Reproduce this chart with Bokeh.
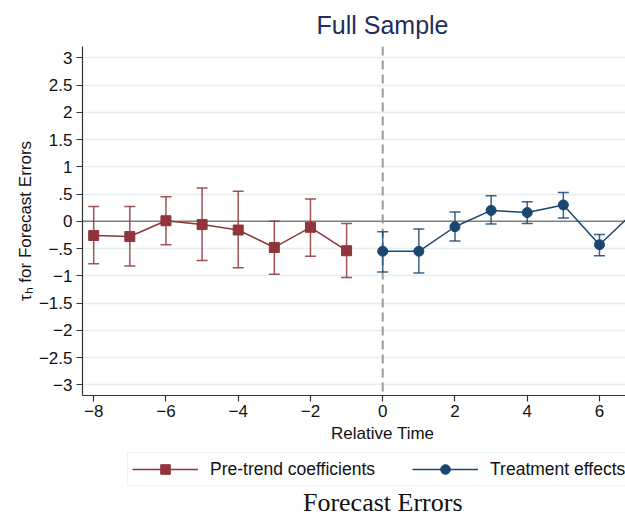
from bokeh.plotting import figure
from bokeh.layouts import column
from bokeh.models import (ColumnDataSource, Range1d, FixedTicker, Span, Whisker, TeeHead,
                          Legend, LegendItem, Label, Title)
from bokeh.embed import file_html
from bokeh.resources import INLINE

# ---- data ----
pre_x = [-8, -7, -6, -5, -4, -3, -2, -1]
pre_coef = [-0.26, -0.28, 0.01, -0.06, -0.16, -0.48, -0.11, -0.54]
pre_upper = [0.27, 0.27, 0.45, 0.61, 0.55, 0.00, 0.41, -0.04]
pre_lower = [-0.78, -0.82, -0.43, -0.72, -0.85, -0.97, -0.64, -1.03]

post_x = [0, 1, 2, 3, 4, 5, 6, 7]
post_coef = [-0.55, -0.55, -0.10, 0.20, 0.16, 0.30, -0.43, 0.20]
post_upper = [-0.19, -0.14, 0.17, 0.47, 0.36, 0.53, -0.24, 0.44]
post_lower = [-0.93, -0.95, -0.36, -0.05, -0.04, 0.06, -0.63, -0.04]

x_ticks = [-8, -6, -4, -2, 0, 2, 4, 6]
x_tick_labels = ["\u22128", "\u22126", "\u22124", "\u22122", "0", "2", "4", "6"]
y_ticks = [-3, -2.5, -2, -1.5, -1, -0.5, 0, 0.5, 1, 1.5, 2, 2.5, 3]
y_tick_labels = ["\u22123", "\u22122.5", "\u22122", "\u22121.5", "\u22121", "\u2212.5", "0",
                 ".5", "1", "1.5", "2", "2.5", "3"]

series_names = ["Pre-trend coefficients", "Treatment effects"]

RED = "#90353B"
BLUE = "#1A476F"
FONT = "Liberation Sans"
TXT = "#111111"
NAN = float("nan")

pre_src = ColumnDataSource(dict(x=pre_x, y=pre_coef, upper=pre_upper, lower=pre_lower))
post_src = ColumnDataSource(dict(x=post_x, y=post_coef, upper=post_upper, lower=post_lower))

# ================= main panel =================
p = figure(width=625, height=423, output_backend="svg", toolbar_location=None,
           x_range=Range1d(-8.31, 6.72), y_range=Range1d(-3.196, 3.207),
           min_border_left=82, min_border_right=0, min_border_top=46, min_border_bottom=28)
p.outline_line_color = None
p.background_fill_color = "white"
p.border_fill_color = "white"

t = Title(text="Full Sample", align="left", offset=234, text_font=FONT,
          text_font_size="25px", text_font_style="normal", text_color="#1F2D5C",
          standoff=16, vertical_align="bottom")
p.add_layout(t, "above")

for ax in (p.xaxis[0], p.yaxis[0]):
    ax.axis_line_color = "#333333"
    ax.axis_line_width = 1.2
    ax.major_tick_line_color = "#333333"
    ax.major_tick_line_width = 1.2
    ax.major_tick_in = 0
    ax.major_tick_out = 6
    ax.minor_tick_line_color = None
    ax.major_label_text_font = FONT
    ax.major_label_text_font_size = "17px"
    ax.major_label_text_color = TXT

p.xaxis.ticker = FixedTicker(ticks=x_ticks)
p.xaxis.major_label_overrides = dict(zip(x_ticks, x_tick_labels))
p.xaxis.major_label_standoff = 3

p.yaxis.ticker = FixedTicker(ticks=y_ticks)
p.yaxis.major_label_overrides = dict(zip(y_ticks, y_tick_labels))
p.yaxis.major_label_standoff = 4
p.yaxis.axis_label = "\u03c4\u2095 for Forecast Errors"
p.yaxis.axis_label_text_font = FONT
p.yaxis.axis_label_text_font_size = "17px"
p.yaxis.axis_label_text_font_style = "normal"
p.yaxis.axis_label_text_color = TXT
p.yaxis.axis_label_standoff = 1

p.xgrid.grid_line_color = None
p.ygrid.ticker = FixedTicker(ticks=y_ticks)
p.ygrid.grid_line_color = "#E6EEEF"
p.ygrid.grid_line_width = 1.5

p.add_layout(Span(location=0, dimension="width", line_color="#808080", line_width=1.5,
                  level="underlay"))
p.add_layout(Span(location=0, dimension="height", line_color="#9A9A9A", line_width=2,
                  line_dash="9 5", level="underlay"))

for src, col in ((pre_src, RED), (post_src, BLUE)):
    w = Whisker(base="x", upper="upper", lower="lower", source=src, dimension="height",
                line_color=col, line_width=1.5, line_alpha=0.85,
                upper_head=TeeHead(size=11, line_color=col, line_width=1.5, line_alpha=0.85),
                lower_head=TeeHead(size=11, line_color=col, line_width=1.5, line_alpha=0.85))
    p.add_layout(w)

p.line("x", "y", source=pre_src, line_color=RED, line_width=1.5)
p.scatter("x", "y", source=pre_src, marker="square", size=10, fill_color=RED, line_color=RED)
p.line("x", "y", source=post_src, line_color=BLUE, line_width=1.5)
p.scatter("x", "y", source=post_src, marker="circle", size=10, fill_color=BLUE, line_color=BLUE)

# ================= strip below: x title, legend, note =================
p2 = figure(width=625, height=93, output_backend="svg", toolbar_location=None,
            x_range=p.x_range, y_range=Range1d(0, 93),
            x_axis_location=None, y_axis_location=None,
            min_border_left=82, min_border_right=0, min_border_top=0, min_border_bottom=0)
p2.outline_line_color = None
p2.xgrid.visible = False
p2.ygrid.visible = False
p2.background_fill_color = "white"
p2.border_fill_color = "white"

# legend keys only (no visible data points in this strip)
key_src = ColumnDataSource(dict(x=[NAN], y=[NAN]))
k_pre_l = p2.line("x", "y", source=key_src, line_color=RED, line_width=1.5)
k_pre_m = p2.scatter("x", "y", source=key_src, marker="square", size=10,
                     fill_color=RED, line_color=RED)
k_post_l = p2.line("x", "y", source=key_src, line_color=BLUE, line_width=1.5)
k_post_m = p2.scatter("x", "y", source=key_src, marker="circle", size=10,
                      fill_color=BLUE, line_color=BLUE)

legend = Legend(items=[LegendItem(label=series_names[0], renderers=[k_pre_l, k_pre_m]),
                       LegendItem(label=series_names[1], renderers=[k_post_l, k_post_m])],
                orientation="horizontal", location=(45, 30), margin=0, padding=4,
                spacing=37, glyph_width=66, glyph_height=24, label_height=24,
                label_standoff=12, label_text_font=FONT, label_text_font_size="17.5px",
                label_text_color=TXT, border_line_color="#DDE6E8", border_line_width=1,
                background_fill_color="white", background_fill_alpha=1.0)
p2.add_layout(legend, "center")

p2.add_layout(Label(x=0, y=83, text="Relative Time", text_align="center",
                    text_baseline="middle", text_font=FONT, text_font_size="17px",
                    text_color=TXT))
p2.add_layout(Label(x=0, y=14.5, text="Forecast Errors", text_align="center",
                    text_baseline="middle", text_font="Liberation Serif",
                    text_font_size="26px", text_color=TXT))

layout = column(p, p2, spacing=0)
open("out.html", "w").write(file_html(layout, INLINE))
